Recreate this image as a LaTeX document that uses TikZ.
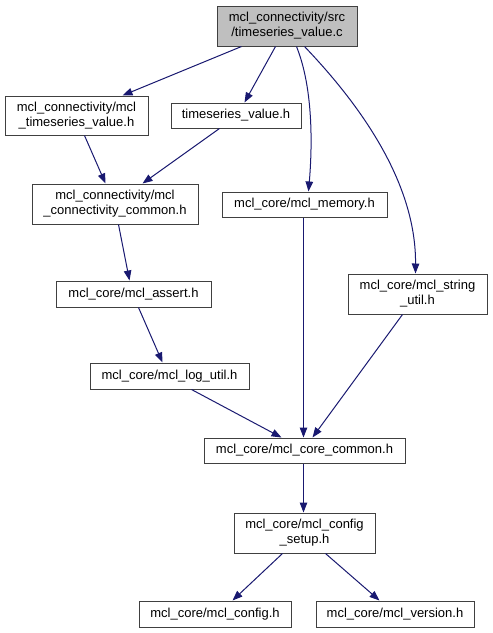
\documentclass[tikz,border=0pt]{standalone}
\usepackage{fontspec}
\setmainfont{Liberation Sans}
\usetikzlibrary{arrows.meta}
\definecolor{edgeblue}{HTML}{191970}
\definecolor{boxline}{HTML}{404040}
\definecolor{topfill}{HTML}{BFBFBF}
\begin{document}
\begin{tikzpicture}[x=1pt,y=-1pt,
  filebox/.style={draw=boxline,line width=1pt,fill=white,inner sep=0pt,align=center,
    font=\fontsize{13}{15}\selectfont},
  edge/.style={draw=edgeblue,line width=1pt,-{Triangle[length=10pt,width=7.5pt]}}]
\useasboundingbox (0,0) rectangle (493,633);
\node[filebox,fill=topfill,minimum width=140pt,minimum height=40pt] (top) at (287,26) {mcl\_connectivity/src\\/timeseries\_value.c};
\node[filebox,minimum width=143pt,minimum height=39pt] (mts) at (76.5,115.5) {mcl\_connectivity/mcl\\\_timeseries\_value.h};
\node[filebox,minimum width=130pt,minimum height=25pt] (tsv) at (236,115.5) {timeseries\_value.h};
\node[filebox,minimum width=166pt,minimum height=40pt] (cc) at (115,204) {mcl\_connectivity/mcl\\\_connectivity\_common.h};
\node[filebox,minimum width=165pt,minimum height=25pt] (mem) at (304.5,204.5) {mcl\_core/mcl\_memory.h};
\node[filebox,minimum width=155pt,minimum height=26pt] (asr) at (133.5,294) {mcl\_core/mcl\_assert.h};
\node[filebox,minimum width=139pt,minimum height=40pt] (su) at (417.5,294) {mcl\_core/mcl\_string\\\_util.h};
\node[filebox,minimum width=159pt,minimum height=26pt] (log) at (169.5,376) {mcl\_core/mcl\_log\_util.h};
\node[filebox,minimum width=201pt,minimum height=25pt] (core) at (304.5,450.5) {mcl\_core/mcl\_core\_common.h};
\node[filebox,minimum width=141pt,minimum height=40pt] (setup) at (304.5,533) {mcl\_core/mcl\_config\\\_setup.h};
\node[filebox,minimum width=152pt,minimum height=26pt] (cfg) at (215,614) {mcl\_core/mcl\_config.h};
\node[filebox,minimum width=158pt,minimum height=26pt] (ver) at (395,614) {mcl\_core/mcl\_version.h};

\draw[edge] ([xshift=25pt]top.south west) -- ([xshift=118pt]mts.north west);
\draw[edge] ([xshift=59pt]top.south west) -- ([xshift=74pt]tsv.north west);
\draw[edge] ([xshift=80pt]top.south west) .. controls (314,90) and (312,150) .. ([xshift=87pt]mem.north west);
\draw[edge] ([xshift=88pt]top.south west) .. controls (370,115) and (416,190) .. ([xshift=68pt]su.north west);
\draw[edge] ([xshift=80pt]mts.south west) -- ([xshift=74pt]cc.north west);
\draw[edge] ([xshift=49pt]tsv.south west) -- ([xshift=111pt]cc.north west);
\draw[edge] ([xshift=87pt]cc.south west) -- ([xshift=74pt]asr.north west);
\draw[edge] ([xshift=83pt]asr.south west) -- ([xshift=73pt]log.north west);
\draw[edge] ([xshift=102pt]log.south west) -- ([xshift=78pt]core.north west);
\draw[edge] ([xshift=82pt]mem.south west) -- ([xshift=100pt]core.north west);
\draw[edge] ([xshift=55pt]su.south west) -- ([xshift=109pt]core.north west);
\draw[edge] ([xshift=100pt]core.south west) -- ([xshift=70pt]setup.north west);
\draw[edge] ([xshift=49pt]setup.south west) -- ([xshift=94pt]cfg.north west);
\draw[edge] ([xshift=92pt]setup.south west) -- ([xshift=64pt]ver.north west);
\end{tikzpicture}
\end{document}
